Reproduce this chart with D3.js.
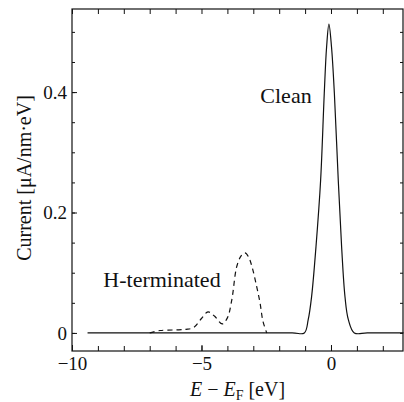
<!DOCTYPE html>
<html>
<head>
<meta charset="utf-8">
<script src="https://cdn.jsdelivr.net/npm/d3@7"></script>
<style>
  body { margin: 0; background: #fff; }
  svg { display: block; }
  text { font-family: "Liberation Serif", "Times New Roman", Times, "DejaVu Serif", serif; fill: #111; }
</style>
</head>
<body>
<svg id="chart"></svg>
<script>
// values
const cleanE = [-9.4, -1.5, -1.03, -0.88, -0.75, -0.58, -0.4, -0.26, -0.17, -0.08, 0.02, 0.13, 0.28, 0.41, 0.54, 0.67, 0.9, 1.4, 2.8];
const cleanI = [0, 0, 0, 0.022, 0.06, 0.143, 0.254, 0.398, 0.475, 0.513, 0.475, 0.398, 0.254, 0.143, 0.06, 0.022, 0, 0, 0];

const hE = [-7.0, -6.6, -6.0, -5.6, -5.3, -5.0, -4.75, -4.5, -4.2, -4.0, -3.83, -3.64, -3.47, -3.32, -3.18, -3.05, -2.9, -2.74, -2.63, -2.48];
const hI = [0, 0.004, 0.005, 0.006, 0.009, 0.024, 0.035, 0.028, 0.015, 0.025, 0.055, 0.11, 0.128, 0.133, 0.126, 0.11, 0.083, 0.05, 0.02, 0];

const xMajor = [-10, -5, 0];
const xMinor = d3.range(-10, 3, 1);
const yMajor = [0, 0.2, 0.4];
const yMinor = d3.range(0, 0.51, 0.05);

const W = 404, H = 402;
const margin = { top: 9, right: 1, bottom: 51, left: 72 };
const width = W - margin.left - margin.right;
const height = H - margin.top - margin.bottom;

const svg = d3.select("#chart").attr("width", W).attr("height", H);
const plot = svg.append("g").attr("transform", `translate(${margin.left},${margin.top})`);

const x = d3.scaleLinear().domain([-10, 2.78]).range([0, width]);
const y = d3.scaleLinear().domain([-0.03, 0.538]).range([height, 0]);

// frame
plot.append("rect")
  .attr("width", width).attr("height", height)
  .attr("fill", "none").attr("stroke", "#111").attr("stroke-width", 1.2);

function styleAxis(g) {
  g.attr("font-family", null);
  g.select(".domain").remove();
  g.selectAll("line").attr("stroke", "#111").attr("stroke-width", 1);
  g.selectAll("text").attr("font-size", 19).attr("fill", "#111");
}

const fmtX = d => d < 0 ? "\u2212" + Math.abs(d) : String(d);
const fmtY = d => d === 0 ? "0" : d.toFixed(1);

// bottom
plot.append("g").attr("transform", `translate(0,${height})`)
  .call(d3.axisBottom(x).tickValues(xMinor).tickSize(-5).tickFormat(""))
  .call(styleAxis);
plot.append("g").attr("transform", `translate(0,${height})`)
  .call(d3.axisBottom(x).tickValues(xMajor).tickSize(-6).tickPadding(6).tickFormat(fmtX))
  .call(styleAxis);
// top
plot.append("g")
  .call(d3.axisTop(x).tickValues(xMinor).tickSize(-5).tickFormat(""))
  .call(styleAxis);
// left
plot.append("g")
  .call(d3.axisLeft(y).tickValues(yMinor).tickSize(-3).tickFormat(""))
  .call(styleAxis);
plot.append("g")
  .call(d3.axisLeft(y).tickValues(yMajor).tickSize(-5).tickPadding(5).tickFormat(fmtY))
  .call(styleAxis);
// right
plot.append("g").attr("transform", `translate(${width},0)`)
  .call(d3.axisRight(y).tickValues(yMinor).tickSize(-3).tickFormat(""))
  .call(styleAxis);

// curves
const line = d3.line().x(d => x(d[0])).y(d => y(d[1])).curve(d3.curveCatmullRom.alpha(0.5));

plot.append("path")
  .datum(d3.zip(cleanE, cleanI))
  .attr("d", line)
  .attr("fill", "none").attr("stroke", "#111").attr("stroke-width", 1.2);

plot.append("path")
  .datum(d3.zip(hE, hI))
  .attr("d", line)
  .attr("fill", "none").attr("stroke", "#111").attr("stroke-width", 1.2)
  .attr("stroke-dasharray", "5,4");

// labels
svg.append("text").attr("x", 286).attr("y", 103).attr("text-anchor", "middle")
  .attr("font-size", 22).text("Clean");
svg.append("text").attr("x", 162).attr("y", 287).attr("text-anchor", "middle")
  .attr("font-size", 22).text("H-terminated");

// x title
const xt = svg.append("text").attr("x", margin.left + width / 2).attr("y", 396)
  .attr("text-anchor", "middle").attr("font-size", 20);
xt.append("tspan").attr("font-style", "italic").text("E");
xt.append("tspan").text(" \u2212 ");
xt.append("tspan").attr("font-style", "italic").text("E");
xt.append("tspan").attr("font-size", 14).attr("dy", 4).text("F");
xt.append("tspan").attr("dy", -4).text(" [eV]");

// y title
svg.append("text")
  .attr("transform", `translate(31,${margin.top + height / 2 - 2}) rotate(-90)`)
  .attr("text-anchor", "middle").attr("font-size", 20)
  .text("Current [\u03bcA/nm\u00b7eV]");
</script>
</body>
</html>
